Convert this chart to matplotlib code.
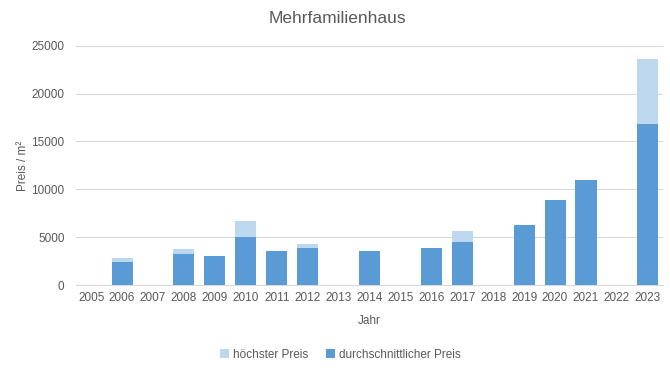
import numpy as np
import matplotlib.pyplot as plt

years = [str(y) for y in range(2005, 2024)]
# 0 = no data for that year
avg_price = [0, 2430, 0, 3260, 3060, 5040, 3570, 3920, 0, 3570,
             0, 3890, 4520, 0, 6290, 8900, 10980, 0, 16820]
max_price = [0, 2850, 0, 3780, 3060, 6700, 3570, 4300, 0, 3570,
             0, 3890, 5660, 0, 6290, 8900, 10980, 0, 23600]

dark = '#5b9bd5'
light = '#bdd7ee'
txt = '#595959'

plt.rcParams['font.family'] = ['Liberation Sans', 'DejaVu Sans']

fig = plt.figure(figsize=(6.7, 3.71), dpi=100)
ax = fig.add_axes([0.113, 0.231, 0.877, 0.646])

x = np.arange(len(years))
w = 0.68
ax.bar(x, max_price, width=w, color=light, label='höchster Preis', zorder=2)
ax.bar(x, avg_price, width=w, color=dark, label='durchschnittlicher Preis', zorder=3)

ax.set_xlim(-0.5, len(years) - 0.5)
ax.set_ylim(0, 25000)
ax.set_yticks(range(0, 25001, 5000))
ax.set_xticks(x)
ax.set_xticklabels(years)
ax.tick_params(axis='both', length=0, labelsize=8.5, colors=txt)
ax.tick_params(axis='y', pad=8)
ax.tick_params(axis='x', pad=5)
ax.grid(axis='y', color='#d9d9d9', linewidth=0.8, zorder=0)
for s in ['top', 'right', 'left']:
    ax.spines[s].set_visible(False)
ax.spines['bottom'].set_color('#d9d9d9')

fig.text(0.503, 0.95, 'Mehrfamilienhaus', fontsize=12.5, color=txt,
         ha='center', va='center')
ax.set_xlabel('Jahr', fontsize=8.5, color=txt, labelpad=8)
ax.set_ylabel('Preis / m²', fontsize=8.5, color=txt, labelpad=2)

ax.legend(loc='upper center', bbox_to_anchor=(0.45, -0.22), ncol=2, frameon=False,
          fontsize=8.5, labelcolor=txt, handlelength=0.8, handleheight=0.8,
          handletextpad=0.3, columnspacing=1.5)

fig.savefig('out.png', dpi=100)
